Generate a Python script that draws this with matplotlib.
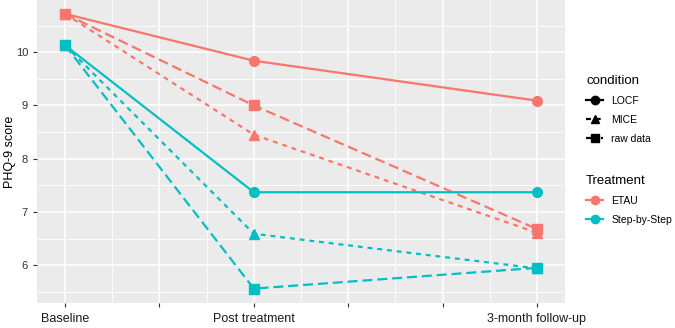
import matplotlib
matplotlib.use("Agg")
import matplotlib.pyplot as plt
from matplotlib.lines import Line2D

plt.rcParams["font.family"] = ["Liberation Sans", "DejaVu Sans"]

# time points (weeks) and labels
weeks = [0, 8, 20]
tick_pos = [0, 4, 8, 12, 16, 20]
tick_labels = ["Baseline", "", "Post treatment", "", "", "3-month follow-up"]

# PHQ-9 means
etau_locf = [10.72, 9.84, 9.09]
etau_mice = [10.72, 8.45, 6.61]
etau_raw = [10.72, 9.00, 6.68]
sbs_locf = [10.13, 7.37, 7.37]
sbs_mice = [10.13, 6.59, 5.94]
sbs_raw = [10.13, 5.56, 5.95]

conditions = ["LOCF", "MICE", "raw data"]
treatments = ["ETAU", "Step-by-Step"]
colors = {"ETAU": "#F8766D", "Step-by-Step": "#00BFC4"}
styles = {"LOCF": "-", "MICE": (0, (2.2, 2.2)), "raw data": (0, (4.5, 2.2))}
markers = {"LOCF": "o", "MICE": "^", "raw data": "s"}

series = [
    ("ETAU", "LOCF", etau_locf), ("ETAU", "MICE", etau_mice), ("ETAU", "raw data", etau_raw),
    ("Step-by-Step", "LOCF", sbs_locf), ("Step-by-Step", "MICE", sbs_mice),
    ("Step-by-Step", "raw data", sbs_raw),
]

fig = plt.figure(figsize=(6.75, 3.28), dpi=100)
W, H = 675, 328
ax = fig.add_axes([37 / W, (H - 303) / H, 528 / W, 303 / H])
ax.set_facecolor("#EBEBEB")

for trt, cond, vals in series:
    ax.plot(weeks, vals, color=colors[trt], linestyle=styles[cond], linewidth=1.6,
            marker=markers[cond], markersize=7 if cond != "MICE" else 7.5, zorder=3)

ax.set_xlim(-1.19, 21.19)
ax.set_ylim(5.29, 10.98)
ax.set_xticks(tick_pos)
ax.set_xticklabels(tick_labels)
ax.set_xticks([2, 6, 10, 14, 18], minor=True)
ax.set_yticks([6, 7, 8, 9, 10])
ax.set_yticks([5.5, 6.5, 7.5, 8.5, 9.5, 10.5], minor=True)
ax.grid(which="major", color="white", linewidth=1.1)
ax.grid(which="minor", color="white", linewidth=0.55)
ax.set_axisbelow(True)
for s in ax.spines.values():
    s.set_visible(False)
ax.tick_params(which="major", length=3, color="#333333", width=0.8, labelsize=8, labelcolor="#333333")
ax.tick_params(which="minor", length=0)
ax.tick_params(axis="x", pad=4, labelsize=9, labelcolor="#1a1a1a")
ax.set_ylabel("PHQ-9 score", fontsize=9)
ax.yaxis.set_label_coords(-0.040, 0.5)

# legends
h_cond = [Line2D([0], [0], color="black", linestyle=styles[c], marker=markers[c],
                 markersize=6, linewidth=1.6) for c in conditions]
h_trt = [Line2D([0], [0], color=colors[t], marker="o", markersize=6, linewidth=1.6)
         for t in treatments]
common = dict(frameon=False, fontsize=7.5, title_fontsize=9.5, handlelength=1.6,
              handletextpad=0.8, labelspacing=0.85, alignment="left", borderaxespad=0)
leg1 = fig.legend(h_cond, conditions, title="condition", loc="upper left",
                  bbox_to_anchor=(582 / W, 1 - 71 / H), **common)
leg2 = fig.legend(h_trt, treatments, title="Treatment", loc="upper left",
                  bbox_to_anchor=(582 / W, 1 - 171 / H), **common)

fig.savefig("out.png", dpi=100)
